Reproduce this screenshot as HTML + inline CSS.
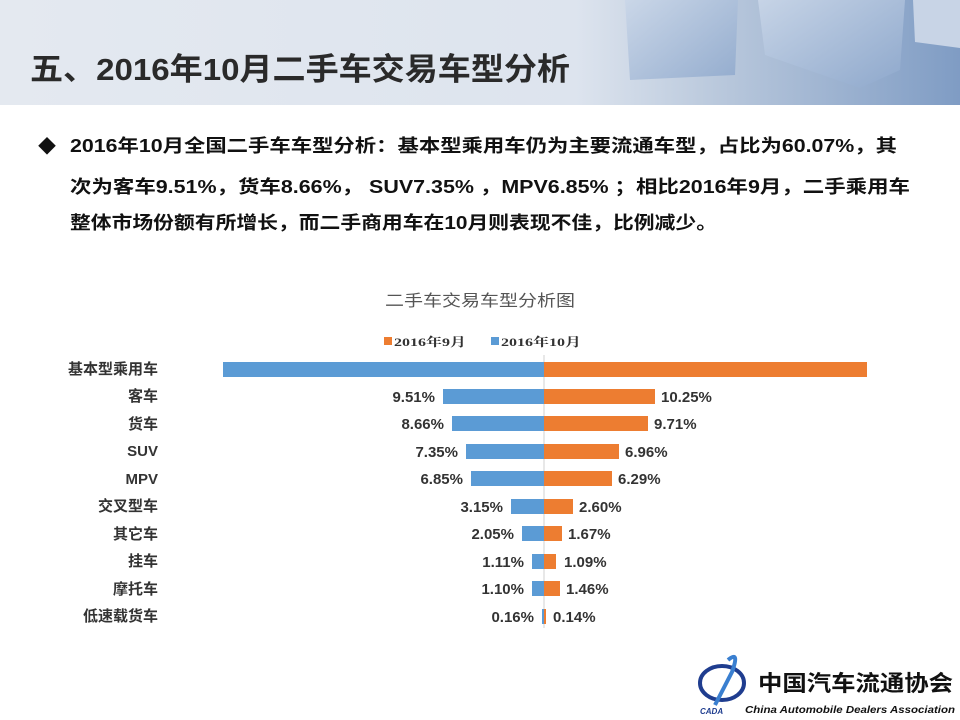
<!DOCTYPE html>
<html><head><meta charset="utf-8"><style>
html,body{margin:0;padding:0;width:960px;height:720px;overflow:hidden;background:#fff}
svg{display:block}
text{font-family:"Liberation Sans","Noto Sans CJK SC",sans-serif}
.serif{font-family:"Liberation Serif","Noto Serif CJK SC",serif}
</style></head><body>
<svg width="960" height="720" viewBox="0 0 960 720" xmlns="http://www.w3.org/2000/svg">
<defs>
<linearGradient id="hdr" x1="0" y1="0" x2="1" y2="0">
<stop offset="0" stop-color="#e4e9f0"/><stop offset="0.6" stop-color="#dde4ee"/><stop offset="0.75" stop-color="#b9c8dc"/><stop offset="1" stop-color="#7f9cc4"/>
</linearGradient>
<linearGradient id="box" x1="0" y1="0" x2="1" y2="1">
<stop offset="0" stop-color="#c9d6e8"/><stop offset="1" stop-color="#8ea8cc"/>
</linearGradient>
</defs>
<rect x="0" y="0" width="960" height="105" fill="url(#hdr)"/>
<path d="M625 0 L738 0 L735 75 L630 80 Z" fill="url(#box)" opacity="0.85"/>
<path d="M758 0 L905 0 L900 70 L860 88 L765 55 Z" fill="url(#box)" opacity="0.9"/>
<path d="M913 0 L960 0 L960 48 L915 42 Z" fill="#c8d4e6"/>
<text x="30" y="80" font-size="31" font-weight="bold" fill="#2a2a2a" textLength="540" lengthAdjust="spacingAndGlyphs">五、2016年10月二手车交易车型分析</text>

<text x="38" y="153" font-size="18" fill="#111">◆</text>
<g font-size="18" font-weight="bold" fill="#111">
<text x="70" y="152" textLength="827" lengthAdjust="spacingAndGlyphs">2016年10月全国二手车车型分析：基本型乘用车仍为主要流通车型，占比为60.07%，其</text>
<text x="70" y="193" textLength="840" lengthAdjust="spacingAndGlyphs">次为客车9.51%，货车8.66%， SUV7.35% ，MPV6.85% ；相比2016年9月，二手乘用车</text>
<text x="70" y="229" textLength="647" lengthAdjust="spacingAndGlyphs">整体市场份额有所增长，而二手商用车在10月则表现不佳，比例减少。</text>
</g>

<text x="385" y="306" font-size="16" fill="#555" textLength="190" lengthAdjust="spacingAndGlyphs">二手车交易车型分析图</text>
<rect x="384" y="337" width="8" height="8" fill="#ed7d31"/>
<text class="serif" x="394" y="346" font-size="12" font-weight="bold" fill="#333" textLength="72" lengthAdjust="spacingAndGlyphs">2016年9月</text>
<rect x="491" y="337" width="8" height="8" fill="#5b9bd5"/>
<text class="serif" x="501" y="346" font-size="12" font-weight="bold" fill="#333" textLength="80" lengthAdjust="spacingAndGlyphs">2016年10月</text>

<line x1="544" y1="355" x2="544" y2="628" stroke="#d0d0d0" stroke-width="1"/>

<g class="serif" font-size="15" font-weight="bold" fill="#333">
<rect x="223" y="362" width="321" height="15" fill="#5b9bd5"/><rect x="544" y="362" width="323" height="15" fill="#ed7d31"/>
<text x="158" y="374" text-anchor="end">基本型乘用车</text>

<rect x="443" y="389" width="101" height="15" fill="#5b9bd5"/><rect x="544" y="389" width="111" height="15" fill="#ed7d31"/>
<text x="158" y="401" text-anchor="end">客车</text><text x="435" y="402" text-anchor="end">9.51%</text><text x="661" y="402">10.25%</text>

<rect x="452" y="416" width="92" height="15" fill="#5b9bd5"/><rect x="544" y="416" width="104" height="15" fill="#ed7d31"/>
<text x="158" y="429" text-anchor="end">货车</text><text x="444" y="429" text-anchor="end">8.66%</text><text x="654" y="429">9.71%</text>

<rect x="466" y="444" width="78" height="15" fill="#5b9bd5"/><rect x="544" y="444" width="75" height="15" fill="#ed7d31"/>
<text x="158" y="456" text-anchor="end">SUV</text><text x="458" y="457" text-anchor="end">7.35%</text><text x="625" y="457">6.96%</text>

<rect x="471" y="471" width="73" height="15" fill="#5b9bd5"/><rect x="544" y="471" width="68" height="15" fill="#ed7d31"/>
<text x="158" y="484" text-anchor="end">MPV</text><text x="463" y="484" text-anchor="end">6.85%</text><text x="618" y="484">6.29%</text>

<rect x="511" y="499" width="33" height="15" fill="#5b9bd5"/><rect x="544" y="499" width="29" height="15" fill="#ed7d31"/>
<text x="158" y="511" text-anchor="end">交叉型车</text><text x="503" y="512" text-anchor="end">3.15%</text><text x="579" y="512">2.60%</text>

<rect x="522" y="526" width="22" height="15" fill="#5b9bd5"/><rect x="544" y="526" width="18" height="15" fill="#ed7d31"/>
<text x="158" y="539" text-anchor="end">其它车</text><text x="514" y="539" text-anchor="end">2.05%</text><text x="568" y="539">1.67%</text>

<rect x="532" y="554" width="12" height="15" fill="#5b9bd5"/><rect x="544" y="554" width="12" height="15" fill="#ed7d31"/>
<text x="158" y="566" text-anchor="end">挂车</text><text x="524" y="567" text-anchor="end">1.11%</text><text x="564" y="567">1.09%</text>

<rect x="532" y="581" width="12" height="15" fill="#5b9bd5"/><rect x="544" y="581" width="16" height="15" fill="#ed7d31"/>
<text x="158" y="594" text-anchor="end">摩托车</text><text x="524" y="594" text-anchor="end">1.10%</text><text x="566" y="594">1.46%</text>

<rect x="542" y="609" width="2" height="15" fill="#5b9bd5"/><rect x="544" y="609" width="2" height="15" fill="#ed7d31"/>
<text x="158" y="621" text-anchor="end">低速载货车</text><text x="534" y="622" text-anchor="end">0.16%</text><text x="553" y="622">0.14%</text>
</g>

<g>
<ellipse cx="722" cy="683" rx="22" ry="17" fill="none" stroke="#1f3d8f" stroke-width="4"/>
<path d="M728 660 Q740 650 732 672 L715 705" stroke="#3a7fd0" stroke-width="4" fill="none"/>
<text x="700" y="714" font-size="8" font-weight="bold" fill="#1f3d8f" font-style="italic">CADA</text>
<text x="758" y="691" font-size="22" font-weight="bold" fill="#111" textLength="195" lengthAdjust="spacingAndGlyphs">中国汽车流通协会</text>
<text x="745" y="713" font-size="10" font-style="italic" font-weight="bold" fill="#111" textLength="210" lengthAdjust="spacingAndGlyphs">China Automobile Dealers Association</text>
</g>
</svg>
</body></html>
